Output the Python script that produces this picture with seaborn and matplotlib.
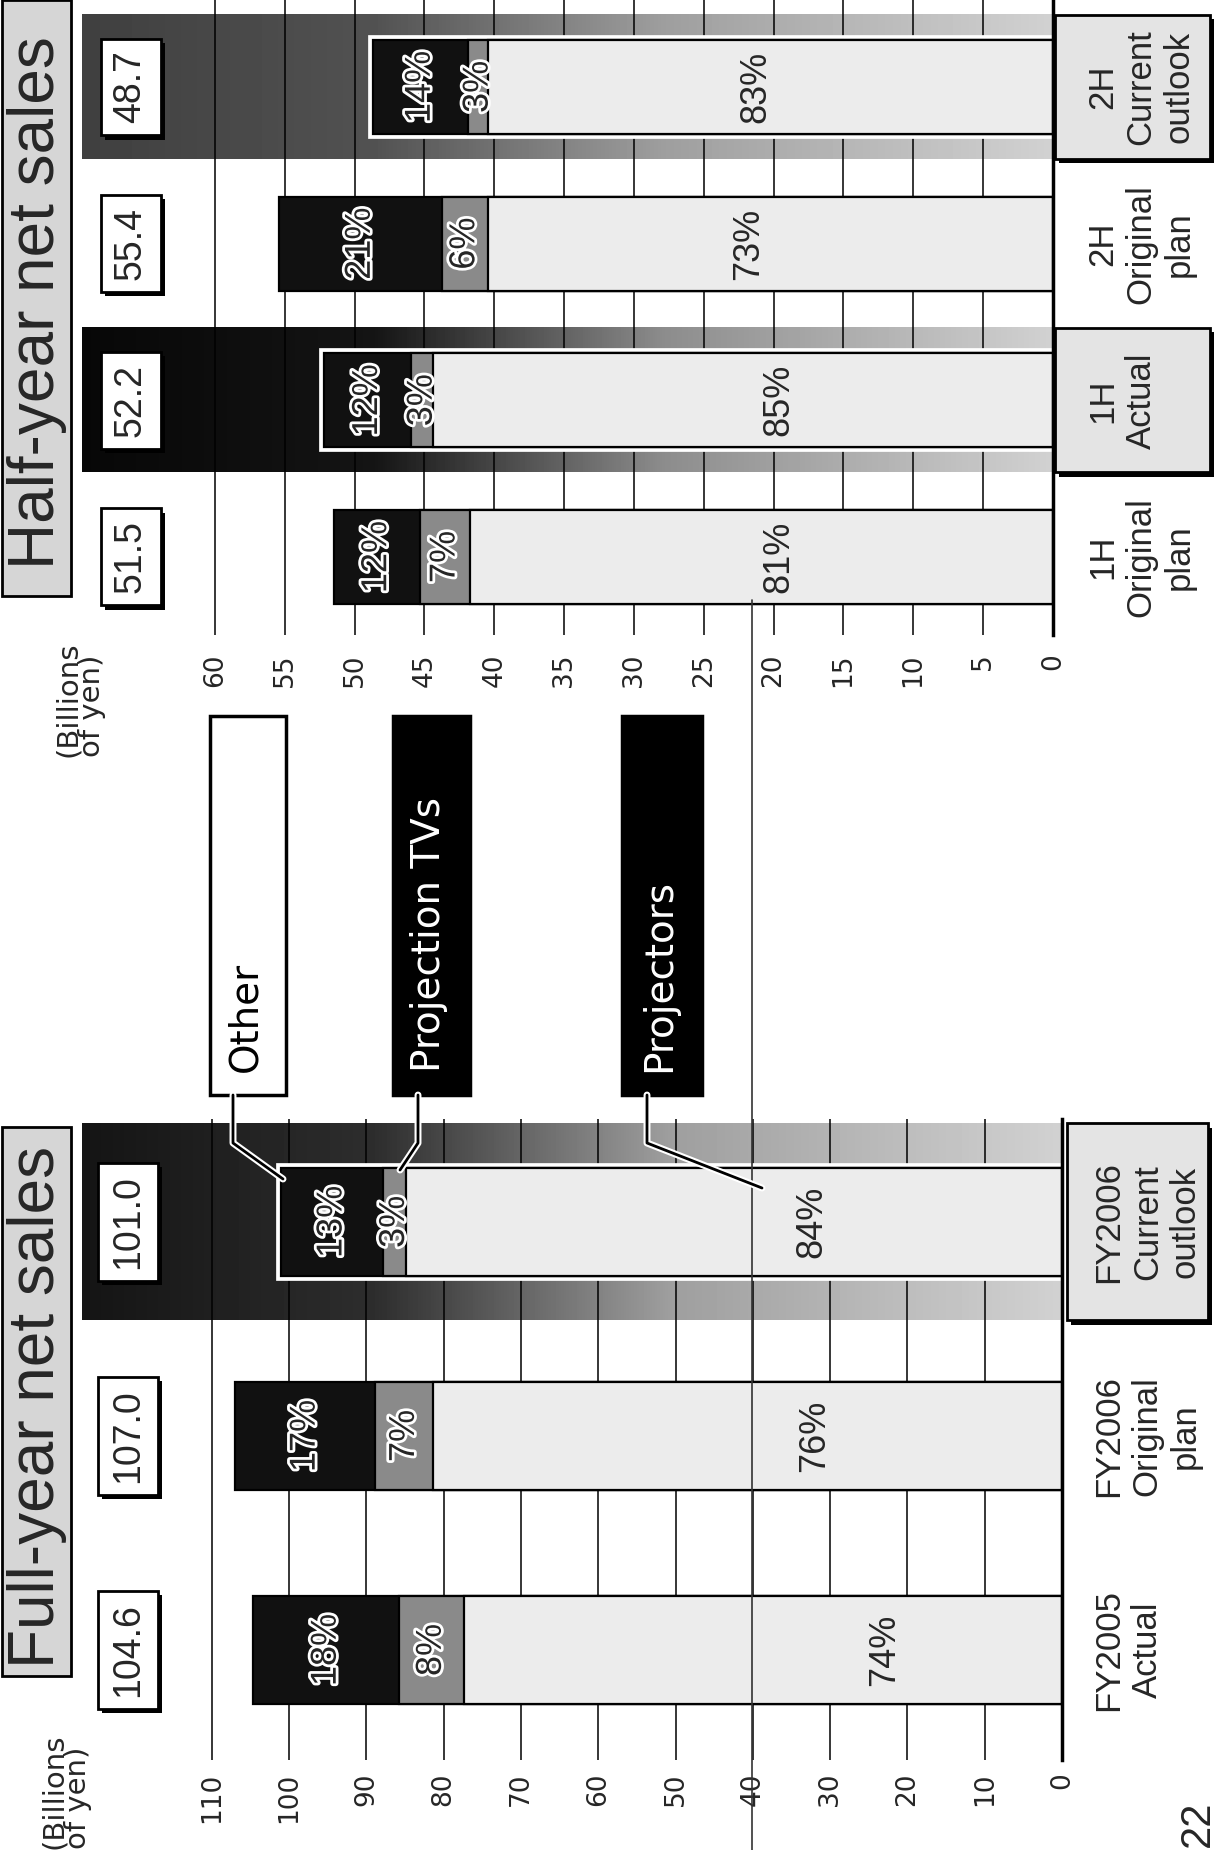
import numpy as np
import pandas as pd
import matplotlib
matplotlib.use("Agg")
import matplotlib.pyplot as plt
import seaborn as sns
from matplotlib import patheffects as pe
from matplotlib import font_manager
from matplotlib.patches import Rectangle
from matplotlib.lines import Line2D

sns.set_style("white")
plt.rcParams["font.family"] = ["DejaVu Sans"]

names = {f.name for f in font_manager.fontManager.ttflist}
if "Liberation Sans Narrow" in names:
    NARROW, VAL_FS, CAT_FS = "Liberation Sans Narrow", 31, 28
else:
    NARROW, VAL_FS, CAT_FS = "Liberation Sans", 27, 25

# =====================
# Data (billions of yen, shares in %)
# =====================
half_cats = ["1H\nOriginal\nplan", "1H\nActual", "2H\nOriginal\nplan", "2H\nCurrent\noutlook"]
half_totals = [51.5, 52.2, 55.4, 48.7]
half_other = [12, 12, 21, 14]
half_tvs = [7, 3, 6, 3]
half_proj = [81, 85, 73, 83]
half_ticks = [0, 5, 10, 15, 20, 25, 30, 35, 40, 45, 50, 55, 60]

full_cats = ["FY2005\nActual", "FY2006\nOriginal\nplan", "FY2006\nCurrent\noutlook"]
full_totals = [104.6, 107.0, 101.0]
full_other = [18, 17, 13]
full_tvs = [8, 7, 3]
full_proj = [74, 76, 84]
full_ticks = [0, 10, 20, 30, 40, 50, 60, 70, 80, 90, 100, 110]

legend_names = ["Other", "Projection TVs", "Projectors"]

# where the big "Projectors" share labels sit along the value axis
half_big_pos = [19.6, 19.6, 21.8, 21.3]
full_big_pos = [23, 32, 32.3]

C_OTHER, C_TVS, C_PROJ = "#111111", "#8a8a8a", "#ececec"

W, H = 1220, 1850


def fbox(x0, y0, x1, y1):
    return [x0 / W, 1 - y1 / H, (x1 - x0) / W, (y1 - y0) / H]


def fpt(x, y):
    return x / W, 1 - y / H


fig = plt.figure(figsize=(W / 100, H / 100), dpi=100)
fig.patch.set_facecolor("white")

ax_h = fig.add_axes(fbox(82, 0, 1053, 635))
ax_f = fig.add_axes(fbox(82, 1119, 1062, 1760))

shadow = [pe.withSimplePatchShadow(offset=(3, -3), shadow_rgbFace="black", alpha=1)]


def draw_panel(ax, cats, totals, other, tvs, proj, big_pos, highlight, bands,
               width, xmax, ticks, ylim, tick_fs, tick_pad, cat_pad, box_x, cat_box):
    order = cats[::-1]
    df = pd.DataFrame({"cat": cats, "total": totals, "other": other, "tvs": tvs, "proj": proj})
    df["tv_proj"] = df["total"] * (df["tvs"] + df["proj"]) / 100
    df["proj_v"] = df["total"] * df["proj"] / 100
    pos = {c: order.index(c) for c in cats}

    # shaded highlight bands
    for c, lv in zip(highlight, bands):
        grad = np.interp(np.linspace(0, 1, 256), [0, 0.3, 0.6, 1], lv)[None, :]
        p = pos[c]
        ax.imshow(grad, extent=(xmax, 0, p + 0.46, p - 0.46), cmap="gray", vmin=0, vmax=1,
                  aspect="auto", interpolation="bilinear", zorder=0.3)
        ax.add_patch(Rectangle((cat_box[0], p - 0.46), cat_box[1] - cat_box[0], 0.92,
                               transform=ax.get_yaxis_transform(), fc="#e4e4e4", ec="black",
                               lw=2, clip_on=False, zorder=0.2, path_effects=shadow))

    hl = df[df["cat"].isin(highlight)]
    sns.barplot(data=hl, x="total", y="cat", order=order, orient="h", color="white",
                edgecolor="white", linewidth=7, width=width, saturation=1, errorbar=None,
                ax=ax, zorder=1.5)
    for col, colr in [("total", C_OTHER), ("tv_proj", C_TVS), ("proj_v", C_PROJ)]:
        sns.barplot(data=df, x=col, y="cat", order=order, orient="h", color=colr,
                    edgecolor="black", linewidth=1.6, width=width, saturation=1,
                    errorbar=None, ax=ax, zorder=2)

    halo = [pe.withStroke(linewidth=4, foreground="white")]
    for i, c in enumerate(cats):
        p = pos[c]
        t = totals[i]
        o_mid = t * (1 - other[i] / 200)
        tv_mid = t * (proj[i] + tvs[i] / 2) / 100
        ax.text(o_mid, p, f"{other[i]}%", rotation=90, ha="center", va="center",
                fontsize=26, family="Liberation Sans", path_effects=halo, zorder=5)
        ax.text(tv_mid, p, f"{tvs[i]}%", rotation=90, ha="center", va="center",
                fontsize=26, family="Liberation Sans", path_effects=halo, zorder=5)
        ax.text(big_pos[i], p, f"{proj[i]}%", rotation=90, ha="center", va="center",
                fontsize=26, family="Liberation Sans", zorder=5)
        vb = ax.text(box_x, p, f"{t:.1f}", transform=ax.get_yaxis_transform(), rotation=90,
                     ha="center", va="center", fontsize=VAL_FS, family=NARROW, zorder=6,
                     bbox=dict(boxstyle="square,pad=0.32", fc="white", ec="black", lw=2))
        vb.get_bbox_patch().set_path_effects(shadow)

    ax.set_xlim(xmax, 0)
    ax.set_ylim(*ylim)
    ax.set_xticks(ticks)
    ax.set_xticklabels([str(v) for v in ticks])
    ax.tick_params(axis="x", length=0, labelrotation=90, pad=tick_pad, labelsize=tick_fs)
    ax.yaxis.tick_right()
    ax.tick_params(axis="y", length=0, pad=cat_pad, labelrotation=90)
    ax.set_xlabel("")
    ax.set_ylabel("")
    ax.grid(axis="x", color="black", lw=1.1)
    ax.grid(axis="y", visible=False)
    ax.set_axisbelow(True)
    for s in ["top", "left", "bottom"]:
        ax.spines[s].set_visible(False)
    ax.spines["right"].set_linewidth(2.5)
    ax.spines["right"].set_color("black")
    ax.set_facecolor("none")
    for lab in ax.get_yticklabels():
        lab.set_ha("left")
        lab.set_va("center")
        lab.set_multialignment("center")
        lab.set_fontfamily(NARROW)
        lab.set_fontsize(CAT_FS)
        lab.set_linespacing(1.2)


draw_panel(ax_h, half_cats, half_totals, half_other, half_tvs, half_proj, half_big_pos,
           highlight=[half_cats[1], half_cats[3]],
           bands=[[0.03, 0.08, 0.55, 0.82], [0.25, 0.32, 0.62, 0.82]],
           width=0.6, xmax=(1053 - 82) / 13.97, ticks=half_ticks, ylim=(3.498, -0.555),
           tick_fs=19, tick_pad=13, cat_pad=24, box_x=0.05, cat_box=(1.002, 1.162))

draw_panel(ax_f, full_cats, full_totals, full_other, full_tvs, full_proj, full_big_pos,
           highlight=[full_cats[2]],
           bands=[[0.08, 0.18, 0.62, 0.82]],
           width=0.505, xmax=(1062 - 82) / 7.73, ticks=full_ticks, ylim=(2.514, -0.481),
           tick_fs=19, tick_pad=9, cat_pad=22, box_x=0.047, cat_box=(1.005, 1.149))

# =====================
# Titles, units, legend
# =====================
for (y0, y1, txt) in [(0, 596, "Half-year net sales"), (1127, 1676, "Full-year net sales")]:
    fig.add_artist(Rectangle(fpt(2, y1), 69 / W, (y1 - y0) / H, transform=fig.transFigure,
                             fc="#d6d6d6", ec="black", lw=2))
    fig.text(*fpt(37, (y0 + y1) / 2 + 5), txt, rotation=90, ha="center", va="center",
             fontsize=46, family="Liberation Sans")

for (x, y) in [(80, 757), (66, 1849)]:
    fig.text(*fpt(x, y), "(Billions\nof yen)", rotation=90, ha="center", va="bottom",
             ma="left", fontsize=21, linespacing=0.85)

legend_boxes = [(210, 286, "white", "black"), (393, 470, "black", "white"), (622, 702, "black", "white")]
for name, (x0, x1, fc, tc) in zip(legend_names, legend_boxes):
    fig.add_artist(Rectangle(fpt(x0, 1095), (x1 - x0) / W, (1095 - 716) / H,
                             transform=fig.transFigure, fc=fc, ec="black", lw=2.5))
    fig.text(*fpt((x0 + x1) / 2 - 3, 1072), name, rotation=90, ha="center", va="bottom",
             fontsize=28, color=tc)

leaders = [[(233, 1095), (233, 1143), (283, 1179)],
           [(418, 1095), (418, 1143), (400, 1170)],
           [(647, 1095), (647, 1143), (762, 1188)]]
for pts in leaders:
    xs = [fpt(*p)[0] for p in pts]
    ys = [fpt(*p)[1] for p in pts]
    fig.add_artist(Line2D(xs, ys, transform=fig.transFigure, color="black", lw=2, zorder=8,
                          path_effects=[pe.Stroke(linewidth=5, foreground="white"), pe.Normal()]))

# fold line of the scanned page
fig.add_artist(Line2D([752 / W, 752 / W], [1 - 600 / H, 0], transform=fig.transFigure,
                      color="#333333", lw=1.2, zorder=1))

fig.text(*fpt(1198, 1824), "22", rotation=90, ha="center", va="center", fontsize=30,
         family="Liberation Sans")

fig.savefig("out.png", dpi=100, facecolor="white")
plt.close(fig)
